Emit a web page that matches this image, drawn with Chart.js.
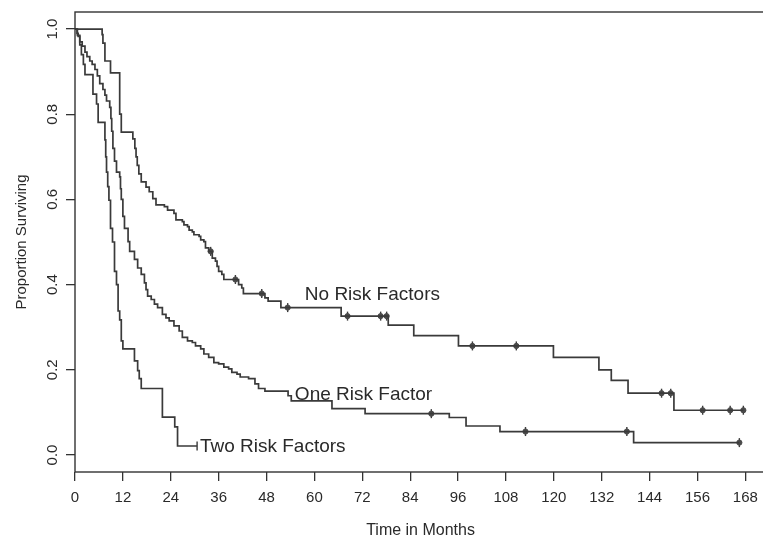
<!DOCTYPE html>
<html>
<head>
<meta charset="utf-8">
<script src="https://cdn.jsdelivr.net/npm/chart.js@4/dist/chart.umd.min.js"></script>
<style>
  html, body { margin: 0; padding: 0; background: #ffffff; overflow: hidden; }
  #wrap { width: 772px; height: 540px; }
</style>
</head>
<body>
<div id="wrap"><canvas id="c" width="772" height="540"></canvas></div>
<script>
// ---------- Data ----------
// Kaplan-Meier drop points: time (months) and survival after the drop
const noRiskTime = [0, 6.8, 7.0, 7.5, 8.9, 11.2, 11.6, 14.5, 15.0, 15.3, 15.6, 16.0, 16.6, 17.8, 18.6, 19.5, 20.3, 22.4, 23.2, 24.8, 25.3, 26.9, 27.3, 28.2, 28.6, 29.4, 29.8, 31.1, 31.5, 32.3, 32.7, 33.5, 34.4, 35.2, 35.6, 36.0, 36.8, 37.3, 41.0, 41.8, 42.2, 47.6, 48.4, 51.6, 66.7, 78.5, 84.9, 96.1, 119.9, 131.3, 134.4, 138.6, 150.1, 167.5];
const noRiskSurv = [1.0, 0.987, 0.967, 0.925, 0.897, 0.80, 0.758, 0.742, 0.72, 0.70, 0.68, 0.660, 0.641, 0.629, 0.618, 0.602, 0.587, 0.583, 0.575, 0.567, 0.552, 0.548, 0.540, 0.536, 0.528, 0.524, 0.517, 0.513, 0.505, 0.501, 0.486, 0.478, 0.462, 0.455, 0.443, 0.431, 0.424, 0.412, 0.400, 0.392, 0.379, 0.369, 0.361, 0.346, 0.326, 0.305, 0.280, 0.256, 0.229, 0.200, 0.175, 0.145, 0.105, 0.105];
const noRiskCensor = [34.0, 40.2, 46.8, 53.3, 68.3, 76.6, 78.1, 99.6, 110.6, 147.0, 149.3, 157.3, 164.2, 167.5];

const oneRiskTime = [0, 0.6, 1.2, 1.8, 2.5, 3.0, 3.7, 4.3, 5.0, 5.6, 6.2, 7.0, 7.5, 7.9, 8.7, 9.0, 9.2, 9.5, 9.9, 10.4, 11.2, 11.4, 11.6, 12.0, 12.4, 13.3, 13.7, 14.9, 15.7, 16.6, 17.4, 17.8, 18.2, 19.1, 19.9, 20.7, 21.9, 22.8, 23.6, 24.8, 26.1, 26.9, 28.2, 29.4, 30.2, 31.5, 32.3, 33.5, 34.8, 36.0, 37.3, 38.5, 39.3, 40.6, 41.4, 43.5, 45.1, 46.0, 47.6, 53.4, 54.2, 64.4, 72.7, 93.8, 98.0, 106.5, 140.0, 166.5];
const oneRiskSurv = [1.0, 0.985, 0.970, 0.960, 0.946, 0.935, 0.925, 0.917, 0.905, 0.890, 0.872, 0.858, 0.845, 0.831, 0.816, 0.790, 0.760, 0.720, 0.690, 0.664, 0.653, 0.625, 0.600, 0.560, 0.532, 0.501, 0.478, 0.459, 0.439, 0.424, 0.404, 0.388, 0.373, 0.365, 0.354, 0.346, 0.330, 0.322, 0.315, 0.303, 0.291, 0.276, 0.268, 0.264, 0.256, 0.249, 0.237, 0.229, 0.217, 0.214, 0.206, 0.202, 0.194, 0.190, 0.183, 0.179, 0.167, 0.156, 0.150, 0.139, 0.127, 0.109, 0.097, 0.088, 0.068, 0.055, 0.029, 0.029];
const oneRiskCensor = [89.3, 112.9, 138.3, 166.5];

const twoRiskTime = [0, 0.5, 0.8, 1.2, 1.6, 2.1, 2.5, 4.5, 5.4, 5.8, 7.5, 7.7, 7.9, 8.2, 8.5, 8.9, 9.4, 9.9, 10.4, 10.8, 11.2, 11.6, 12.0, 14.9, 15.7, 16.1, 16.6, 21.9, 25.0, 25.7, 30.6];
const twoRiskSurv = [1.0, 0.990, 0.983, 0.963, 0.940, 0.917, 0.893, 0.847, 0.824, 0.781, 0.740, 0.700, 0.664, 0.630, 0.598, 0.532, 0.500, 0.431, 0.400, 0.338, 0.317, 0.268, 0.249, 0.221, 0.198, 0.179, 0.156, 0.089, 0.066, 0.021, 0.021];
const twoRiskCensor = [30.6];

// Axis ticks
const xTicks = [0, 12, 24, 36, 48, 60, 72, 84, 96, 108, 120, 132, 144, 156, 168];
const yTicks = [0.0, 0.2, 0.4, 0.6, 0.8, 1.0];

// Curve labels
const labelText = ['No Risk Factors', 'One Risk Factor', 'Two Risk Factors'];
const labelTime = [57.6, 55.1, 31.3];
const labelSurv = [0.364, 0.130, 0.007];

// ---------- Helpers ----------
const FONT = "'Liberation Sans', Arial, Helvetica, sans-serif";
const INK = '#3a3a3a';

function pts(times, surv) { return times.map((t, i) => ({ x: t, y: surv[i] })); }
function survAt(times, surv, t) {
  let s = surv[0];
  for (let i = 0; i < times.length; i++) { if (times[i] <= t) s = surv[i]; }
  return s;
}
function censorPts(cens, times, surv) { return cens.map(t => ({ x: t, y: survAt(times, surv, t) })); }

function curve(times, surv) {
  return { data: pts(times, surv), showLine: true, stepped: true, borderColor: INK, borderWidth: 1.7, pointRadius: 0, fill: false };
}
function dots(data) {
  return { data, showLine: false, pointStyle: 'circle', pointRadius: 2.6, pointBackgroundColor: '#4a4a4a', pointBorderColor: '#4a4a4a', pointBorderWidth: 1 };
}
function ticksMark(data) {
  return { data, showLine: false, pointStyle: 'line', pointRotation: 90, pointRadius: 4.5, pointBorderColor: INK, pointBorderWidth: 1.4 };
}

const boxPlugin = {
  id: 'box',
  beforeDraw(chart) {
    const { ctx, width, height } = chart;
    ctx.save(); ctx.fillStyle = '#ffffff'; ctx.fillRect(0, 0, width, height); ctx.restore();
  },
  afterDatasetsDraw(chart) {
    const { ctx, chartArea: a, scales } = chart;
    ctx.save();
    ctx.strokeStyle = '#333333'; ctx.lineWidth = 1.4;
    ctx.strokeRect(a.left, a.top, a.right - a.left, a.bottom - a.top);
    ctx.fillStyle = '#2a2a2a';
    ctx.font = '19px ' + FONT;
    ctx.textAlign = 'left'; ctx.textBaseline = 'alphabetic';
    labelText.forEach((txt, i) => {
      ctx.fillText(txt, scales.x.getPixelForValue(labelTime[i]), scales.y.getPixelForValue(labelSurv[i]));
    });
    ctx.restore();
  }
};

new Chart(document.getElementById('c'), {
  type: 'scatter',
  data: {
    datasets: [
      curve(noRiskTime, noRiskSurv),
      curve(oneRiskTime, oneRiskSurv),
      curve(twoRiskTime, twoRiskSurv),
      dots(censorPts(noRiskCensor, noRiskTime, noRiskSurv)),
      ticksMark(censorPts(noRiskCensor, noRiskTime, noRiskSurv)),
      dots(censorPts(oneRiskCensor, oneRiskTime, oneRiskSurv)),
      ticksMark(censorPts(oneRiskCensor, oneRiskTime, oneRiskSurv)),
      ticksMark(censorPts(twoRiskCensor, twoRiskTime, twoRiskSurv))
    ]
  },
  options: {
    responsive: false,
    animation: false,
    events: [],
    layout: { padding: { top: 9, right: 0, left: 0, bottom: 0 } },
    plugins: { legend: { display: false }, tooltip: { enabled: false } },
    scales: {
      x: {
        type: 'linear', min: 0, max: 173.2,
        afterBuildTicks: s => { s.ticks = xTicks.map(v => ({ value: v })); },
        afterFit: s => { s.height = 68; },
        border: { display: false },
        grid: { drawOnChartArea: false, drawTicks: true, tickLength: 9, color: '#333333', lineWidth: 1.3 },
        ticks: { autoSkip: false, maxRotation: 0, padding: 8, color: '#2a2a2a', font: { family: FONT, size: 15 }, callback: v => String(v) },
        title: { display: true, text: 'Time in Months', color: '#2a2a2a', font: { family: FONT, size: 16 }, padding: { top: 0, bottom: 0 } }
      },
      y: {
        type: 'linear', min: -0.04, max: 1.04,
        afterBuildTicks: s => { s.ticks = yTicks.map(v => ({ value: v })); },
        afterFit: s => { s.width = 75; },
        border: { display: false },
        grid: { drawOnChartArea: false, drawTicks: true, tickLength: 9, color: '#333333', lineWidth: 1.3 },
        ticks: { autoSkip: false, minRotation: 90, maxRotation: 90, crossAlign: 'center', padding: 3, color: '#2a2a2a', font: { family: FONT, size: 15 }, callback: v => v.toFixed(1) },
        title: { display: true, text: 'Proportion Surviving', color: '#2a2a2a', font: { family: FONT, size: 15 }, padding: { top: 13, bottom: 0 } }
      }
    }
  },
  plugins: [boxPlugin]
});
</script>
</body>
</html>
